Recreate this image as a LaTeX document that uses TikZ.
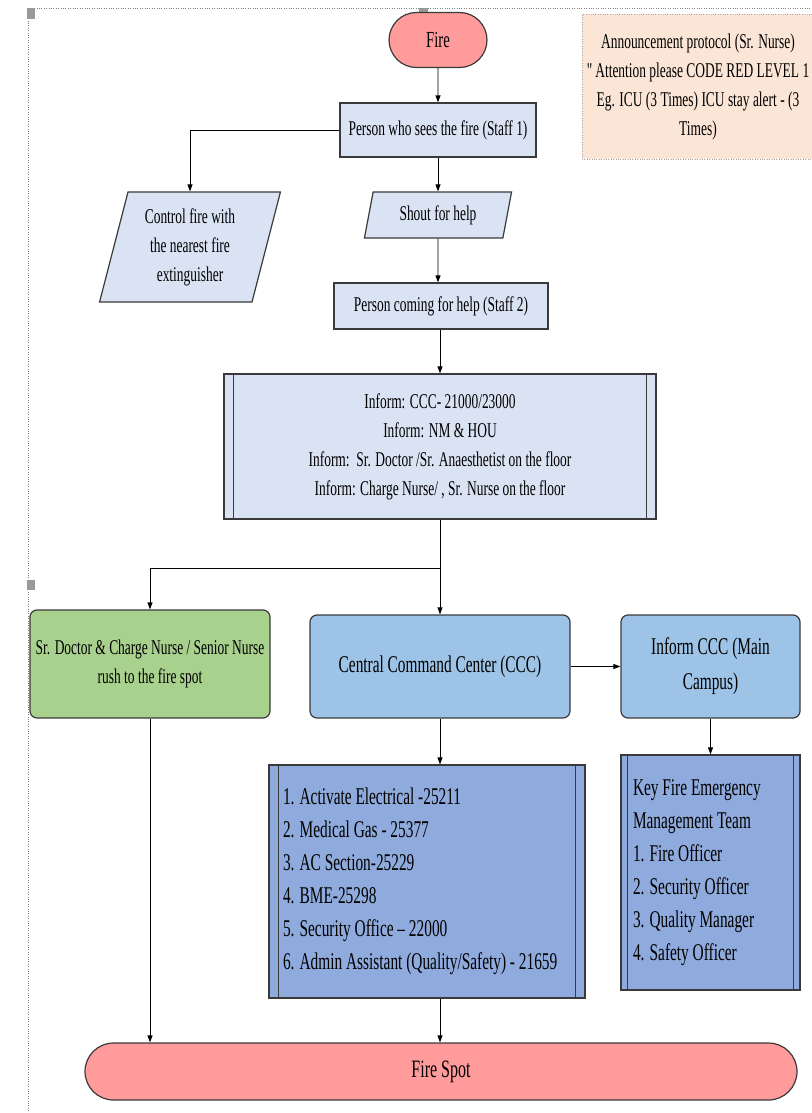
\documentclass[tikz,border=0pt]{standalone}
\usepackage{fontspec}
\setmainfont{Liberation Serif}[FakeStretch=0.64]
\usetikzlibrary{shapes.geometric,shapes.misc,arrows.meta}
\definecolor{firered}{HTML}{FF9B9B}
\definecolor{paleblue}{HTML}{DAE3F3}
\definecolor{peach}{HTML}{FBE5D6}
\definecolor{leafgreen}{HTML}{A9D18E}
\definecolor{skyblue}{HTML}{9DC3E6}
\definecolor{listblue}{HTML}{8FAADC}
\definecolor{edge}{HTML}{3A3A3A}
\begin{document}
\begin{tikzpicture}[x=1pt,y=-1pt,
    base/.style={draw=edge, line width=1.2pt, inner sep=0pt, align=center,
      font=\fontsize{21}{29}\selectfont},
    proc/.style={base, rectangle, fill=paleblue},
    io/.style={base, trapezium, trapezium left angle=75, trapezium right angle=105,
      trapezium stretches=true, fill=paleblue},
    term/.style={base, rounded rectangle, fill=firered},
    team/.style={base, rectangle, rounded corners=7pt},
    list/.style={base, rectangle, fill=listblue, align=flush left, inner xsep=14pt,
      font=\fontsize{24}{33}\selectfont},
    arr/.style={-{Triangle[length=7pt,width=5pt]}, line width=0.9pt, draw=black}]
  \useasboundingbox (0,0) rectangle (811,1113);

  % page frame and handles
  \draw[dotted, gray] (28,1113) -- (28,8) -- (811,8);
  \fill[gray!80] (27,8) rectangle (35,19);
  \fill[gray!80] (419,8) rectangle (428,15);
  \fill[gray!80] (27,580) rectangle (35,590);

  % announcement note
  \node[draw=gray!70, dotted, fill=peach, align=center, minimum width=232pt,
    minimum height=145pt, font=\fontsize{21}{29}\selectfont] (note) at (698,86.5)
    {Announcement protocol (Sr. Nurse)\\ \textquotedbl{}Attention please CODE RED LEVEL 1\\
     Eg. ICU (3 Times) ICU stay alert - (3\\ Times)};

  % first steps
  \node[term, minimum width=98pt, minimum height=55pt,
    font=\fontsize{23}{29}\selectfont] (fire) at (438,40) {Fire};
  \node[proc, minimum width=196pt, minimum height=54pt] (staff1) at (438,130)
    {Person who sees the fire (Staff 1)};
  \node[io, minimum width=181pt, minimum height=110pt] (ctrl) at (190,247)
    {Control fire with\\ the nearest fire\\ extinguisher};
  \node[io, minimum width=148pt, minimum height=46pt] (shout) at (438,215)
    {Shout for help};
  \node[proc, minimum width=214pt, minimum height=46pt] (staff2) at (441,306)
    {Person coming for help (Staff 2)};

  % informing
  \node[proc, minimum width=432pt, minimum height=145pt] (inform) at (440,446.5)
    {Inform: CCC- 21000/23000\\ Inform: NM \& HOU\\
     Inform:\ \ Sr. Doctor /Sr. Anaesthetist on the floor\\
     Inform: Charge Nurse/ , Sr. Nurse on the floor};
  \draw[edge, line width=1.2pt] ([xshift=10pt]inform.north west) -- ([xshift=10pt]inform.south west);
  \draw[edge, line width=1.2pt] ([xshift=-10pt]inform.north east) -- ([xshift=-10pt]inform.south east);
  \coordinate (split) at (440,568);

  % responders
  \node[team, fill=leafgreen, minimum width=240pt, minimum height=108pt] (doctor) at (150,664)
    {Sr. Doctor \& Charge Nurse / Senior Nurse\\ rush to the fire spot};
  \node[team, fill=skyblue, minimum width=260pt, minimum height=103pt,
    font=\fontsize{24}{35}\selectfont] (ccc) at (440,666.5) {Central Command Center (CCC)};
  \node[team, fill=skyblue, minimum width=179pt, minimum height=103pt,
    font=\fontsize{24}{35}\selectfont] (main) at (710.5,666.5) {Inform CCC (Main\\ Campus)};

  % call lists
  \node[list, text width=288pt, minimum height=233pt] (calls) at (427,881.5)
    {1. Activate Electrical -25211\\ 2. Medical Gas - 25377\\ 3. AC Section-25229\\
     4. BME-25298\\ 5. Security Office -- 22000\\ 6. Admin Assistant (Quality/Safety) - 21659};
  \draw[edge, line width=1.2pt] ([xshift=10pt]calls.north west) -- ([xshift=10pt]calls.south west);
  \draw[edge, line width=1.2pt] ([xshift=-10pt]calls.north east) -- ([xshift=-10pt]calls.south east);
  \node[list, inner xsep=12pt, text width=155pt, minimum height=235pt] (keyteam) at (710.5,872.5)
    {Key Fire Emergency\\ Management Team\\ 1. Fire Officer\\ 2. Security Officer\\
     3. Quality Manager\\ 4. Safety Officer};
  \draw[edge, line width=1.2pt] ([xshift=7pt]keyteam.north west) -- ([xshift=7pt]keyteam.south west);
  \draw[edge, line width=1.2pt] ([xshift=-7pt]keyteam.north east) -- ([xshift=-7pt]keyteam.south east);

  \node[term, minimum width=712pt, minimum height=57pt,
    font=\fontsize{25}{29}\selectfont] (spot) at (441,1071.5) {Fire Spot};

  % connectors
  \draw[arr] (fire) -- (staff1);
  \draw[arr] (staff1.west) -| (ctrl.north);
  \draw[arr] (staff1) -- (shout);
  \draw[arr] (shout) -- (staff2.north -| shout.south);
  \draw[arr] (staff2.south -| inform.north) -- (inform.north);
  \draw[line width=0.9pt] (inform.south) -- (split);
  \draw[arr] (split) -| (doctor.north);
  \draw[arr] (split) -- (ccc.north);
  \draw[arr] (ccc) -- (main);
  \draw[arr] (ccc.south) -- (calls.north -| ccc.south);
  \draw[arr] (main) -- (keyteam);
  \draw[arr] (doctor.south) -- (doctor.south |- spot.north);
  \draw[arr] (calls.south -| ccc.south) -- (ccc.south |- spot.north);
\end{tikzpicture}
\end{document}
